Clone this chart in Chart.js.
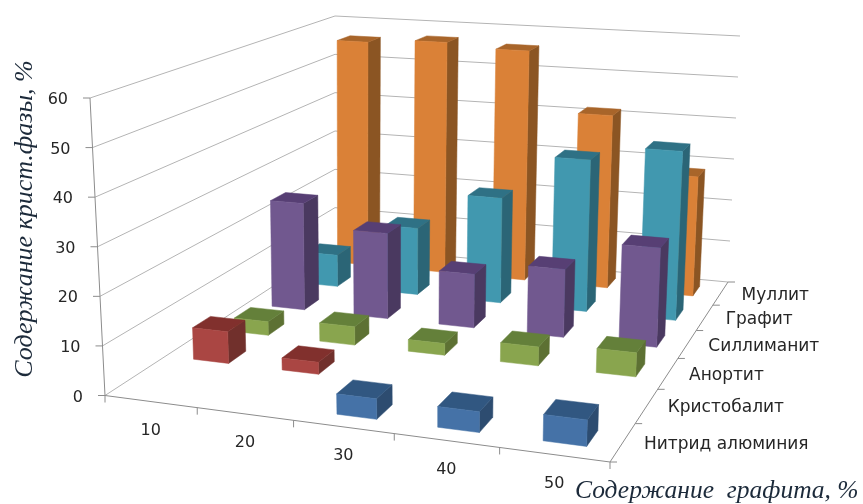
<!DOCTYPE html>
<html>
<head>
<meta charset="utf-8">
<title>Содержание кристаллических фаз</title>
<script src="https://cdn.jsdelivr.net/npm/chart.js@4"></script>
<style>
html, body { margin: 0; background: #fff; }
canvas { display: block; }
</style>
</head>
<body>
<canvas id="phaseChart" width="863" height="504"></canvas>
<script>
// данные диаграммы
const graphiteLabels = ['10', '20', '30', '40', '50'];
const phaseLabels = ['Нитрид алюминия', 'Кристобалит', 'Анортит', 'Силлиманит', 'Графит', 'Муллит'];

const nitride = [null, null, 4, 4, 5];
const cristobalite = [6.7, 2.5, null, null, null];
const anorthite = [3, 4, 2.5, 4, 5];
const sillimanite = [24.6, 19.4, 12, 15, 21.6];
const graphite = [7.5, 15.7, 24.5, 35, 38.5];
const mullite = [56, 57, 56, 41.5, 28.3];

const valueTitle = 'Содержание крист.фазы, %';
const graphiteTitle = 'Содержание  графита, %';

// углы "коробки" на экране: пол и верхняя плоскость
const floorQuad = [[105, 395.5], [610, 462], [728, 282], [335, 246]];
const topQuad = [[90, 98], [620, 137], [740, 36], [335, 16]];

const barWidth = 0.40;
const barDepth = 0.42;
const barShift = 0.004;

// квадрат 0..1 -> четырехугольник
function makeHomography(q) {
    const dx1 = q[1][0] - q[2][0], dx2 = q[3][0] - q[2][0], sx = q[0][0] - q[1][0] + q[2][0] - q[3][0];
    const dy1 = q[1][1] - q[2][1], dy2 = q[3][1] - q[2][1], sy = q[0][1] - q[1][1] + q[2][1] - q[3][1];
    const den = dx1 * dy2 - dx2 * dy1;
    const g = (sx * dy2 - dx2 * sy) / den;
    const h = (dx1 * sy - sx * dy1) / den;
    const a = q[1][0] - q[0][0] + g * q[1][0], b = q[3][0] - q[0][0] + h * q[3][0];
    const d = q[1][1] - q[0][1] + g * q[1][1], e = q[3][1] - q[0][1] + h * q[3][1];
    return (u, v) => {
        const k = g * u + h * v + 1;
        return [(a * u + b * v + q[0][0]) / k, (d * u + e * v + q[0][1]) / k];
    };
}

const floorMap = makeHomography(floorQuad);
const topMap = makeHomography(topQuad);

// u - вдоль графита, v - вглубь, w - по высоте (все 0..1)
function project(u, v, w) {
    const p0 = floorMap(u, v), p1 = topMap(u, v);
    return [p0[0] + (p1[0] - p0[0]) * w, p0[1] + (p1[1] - p0[1]) * w];
}

function decimalOf(scale, value) {
    return scale.getDecimalForPixel(scale.getPixelForValue(value));
}

function fillPoly(ctx, pts, color) {
    ctx.beginPath();
    pts.forEach((p, i) => i ? ctx.lineTo(p[0], p[1]) : ctx.moveTo(p[0], p[1]));
    ctx.closePath();
    ctx.fillStyle = color;
    ctx.fill();
    ctx.strokeStyle = color;
    ctx.lineWidth = 0.5;
    ctx.stroke();
}

function strokeLine(ctx, a, b) {
    ctx.beginPath();
    ctx.moveTo(a[0], a[1]);
    ctx.lineTo(b[0], b[1]);
    ctx.stroke();
}

// столбцы-параллелепипеды вместо плоских баров
class Bar3dController extends Chart.BarController {
    draw() {
        const chart = this.chart, ctx = chart.ctx;
        const ds = this.getDataset();
        const { x, y, z } = chart.scales;
        const halfW = barWidth / graphiteLabels.length / 2;
        const halfD = barDepth / phaseLabels.length / 2;
        const v = decimalOf(z, this.index);

        ds.data.forEach((value, i) => {
            if (value === null) return;
            const u = decimalOf(x, i) + barShift;
            const w = decimalOf(y, value);
            const u0 = u - halfW, u1 = u + halfW, v0 = v - halfD, v1 = v + halfD;
            // правая грань, верх, передняя грань
            fillPoly(ctx, [project(u1, v0, 0), project(u1, v1, 0), project(u1, v1, w), project(u1, v0, w)], ds.sideColor);
            fillPoly(ctx, [project(u0, v0, w), project(u1, v0, w), project(u1, v1, w), project(u0, v1, w)], ds.topColor);
            fillPoly(ctx, [project(u0, v0, 0), project(u1, v0, 0), project(u1, v0, w), project(u0, v0, w)], ds.backgroundColor);
        });
    }
}
Bar3dController.id = 'bar3d';
Bar3dController.defaults = Chart.BarController.defaults;
Chart.register(Bar3dController);

// стенки, оси и подписи
const frame3d = {
    id: 'frame3d',
    beforeDatasetsDraw(chart) {
        const ctx = chart.ctx;
        const { x, y, z } = chart.scales;
        ctx.save();

        // линии сетки по двум стенкам
        ctx.strokeStyle = '#b4b4b4';
        ctx.lineWidth = 1;
        y.ticks.forEach(t => {
            const w = decimalOf(y, t.value);
            ctx.beginPath();
            const a = project(0, 0, w), b = project(0, 1, w), c = project(1, 1, w);
            ctx.moveTo(a[0], a[1]);
            ctx.lineTo(b[0], b[1]);
            ctx.lineTo(c[0], c[1]);
            ctx.stroke();
        });

        // оси
        ctx.strokeStyle = '#8c8c8c';
        strokeLine(ctx, project(0, 0, 0), project(0, 0, 1));
        strokeLine(ctx, project(0, 0, 0), project(1, 0, 0));
        strokeLine(ctx, project(1, 0, 0), project(1, 1, 0));

        ctx.fillStyle = '#262626';
        ctx.font = '16px "DejaVu Sans"';
        ctx.textBaseline = 'middle';

        // шкала значений
        ctx.textAlign = 'right';
        y.ticks.forEach(t => {
            const p = project(0, 0, decimalOf(y, t.value));
            strokeLine(ctx, p, [p[0] - 7, p[1]]);
            ctx.fillText(t.label, p[0] - 22, p[1] + 2);
        });

        // содержание графита
        ctx.textAlign = 'center';
        for (let i = 0; i <= graphiteLabels.length; i++) {
            const p = project(i / graphiteLabels.length, 0, 0);
            strokeLine(ctx, p, [p[0], p[1] + 7]);
        }
        graphiteLabels.forEach((label, i) => {
            const p = project(decimalOf(x, i), 0, 0);
            ctx.fillText(label, p[0], p[1] + 29);
        });

        // кристаллические фазы
        ctx.textAlign = 'left';
        ctx.font = '17px "DejaVu Sans"';
        for (let i = 0; i <= phaseLabels.length; i++) {
            const p = project(1, i / phaseLabels.length, 0);
            strokeLine(ctx, p, [p[0] + 7, p[1]]);
        }
        phaseLabels.forEach((label, i) => {
            const p = project(1, decimalOf(z, i), 0);
            ctx.fillText(label, p[0] + 21, p[1] + 2);
        });

        // заголовки осей
        ctx.fillStyle = '#1c2a3a';
        ctx.font = 'italic 25.5px "Liberation Serif"';
        ctx.textAlign = 'left';
        ctx.textBaseline = 'alphabetic';
        ctx.fillText(graphiteTitle, 575, 498);
        ctx.translate(32, 219);
        ctx.rotate(-Math.PI / 2);
        ctx.textAlign = 'center';
        ctx.font = 'italic 26px "Liberation Serif"';
        ctx.fillText(valueTitle, 0, 0);
        ctx.restore();
    }
};

new Chart(document.getElementById('phaseChart').getContext('2d'), {
    type: 'bar3d',
    data: {
        labels: graphiteLabels,
        datasets: [
            { label: phaseLabels[0], data: nitride, backgroundColor: '#4572A7', sideColor: '#2D4C70', topColor: '#315781' },
            { label: phaseLabels[1], data: cristobalite, backgroundColor: '#AA4643', sideColor: '#71302C', topColor: '#81302D' },
            { label: phaseLabels[2], data: anorthite, backgroundColor: '#89A54E', sideColor: '#5D7133', topColor: '#64803A' },
            { label: phaseLabels[3], data: sillimanite, backgroundColor: '#71588F', sideColor: '#4A3960', topColor: '#573F74' },
            { label: phaseLabels[4], data: graphite, backgroundColor: '#4198AF', sideColor: '#2B6576', topColor: '#2F7185' },
            { label: phaseLabels[5], data: mullite, backgroundColor: '#DA8137', sideColor: '#8B5523', topColor: '#A8652A' }
        ]
    },
    options: {
        responsive: false,
        animation: false,
        plugins: { legend: { display: false }, tooltip: { enabled: false } },
        scales: {
            x: { type: 'category', offset: true, display: false },
            y: { type: 'linear', min: 0, max: 60, ticks: { stepSize: 10 }, display: false },
            z: { type: 'category', axis: 'y', labels: phaseLabels, offset: true, display: false }
        }
    },
    plugins: [frame3d]
});
</script>
</body>
</html>
